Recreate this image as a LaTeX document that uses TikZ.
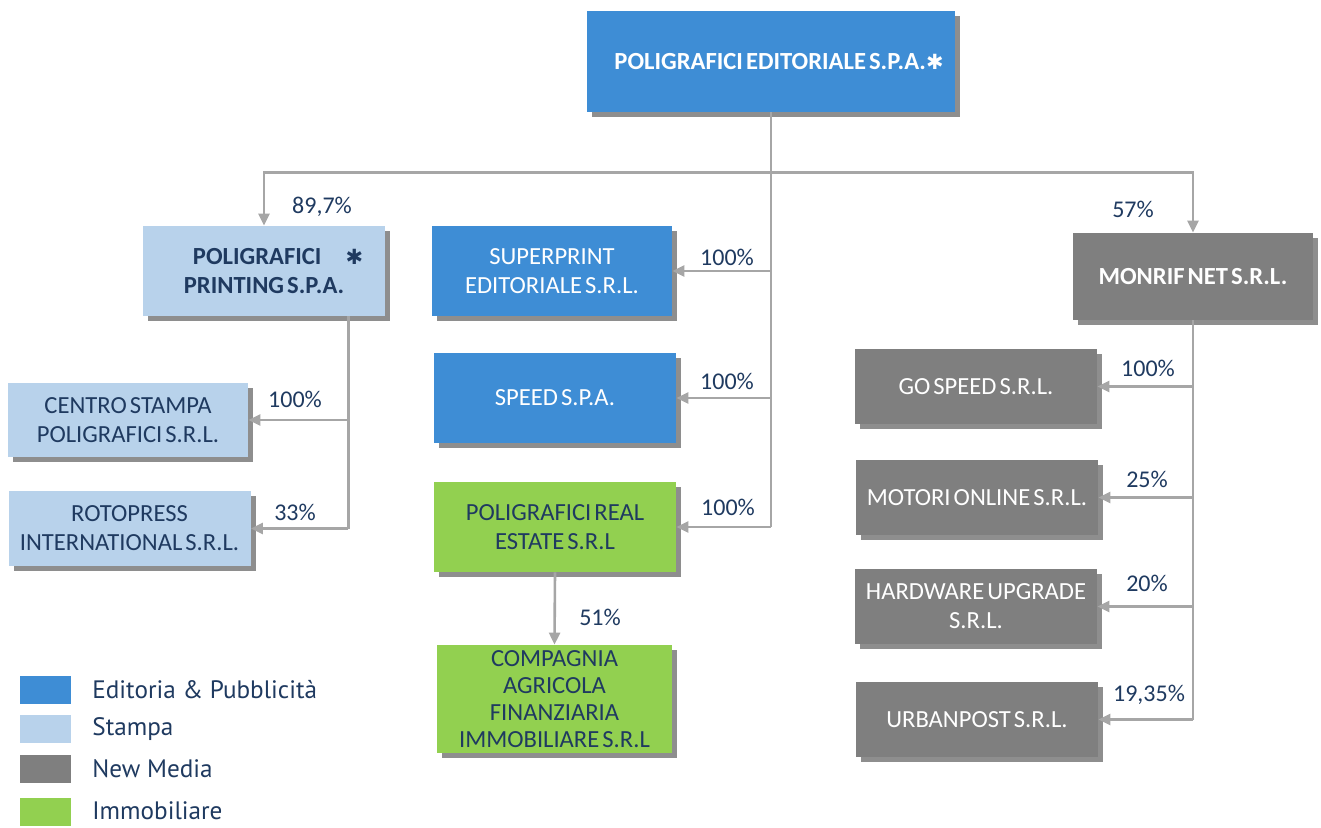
\documentclass[tikz,border=0pt]{standalone}
\usepackage{fontspec}
\setmainfont{Carlito}[WordSpace=0.55]
\newfontfamily\legendfont{PT Sans}
\newfontfamily\symfont{DejaVu Sans}
\usepackage{tikz}
\usetikzlibrary{calc,arrows.meta,shadows}
\definecolor{edit}{HTML}{3E8DD5}
\definecolor{stampa}{HTML}{B8D2EB}
\definecolor{media}{HTML}{7F7F7F}
\definecolor{immo}{HTML}{92D050}
\definecolor{shade}{HTML}{8E8E8E}
\definecolor{wire}{HTML}{A6A6A6}
\definecolor{navy}{HTML}{1F3A60}
\newcommand{\boxfont}{\fontsize{12.3}{14.5}\selectfont}
\newcommand{\heavystar}{{\symfont\scalebox{0.85}{✱}}}
\tikzset{
  box/.style={rectangle, inner sep=0pt, align=center, font=\boxfont,
    minimum width=121pt, minimum height=45pt,
    drop shadow={shadow xshift=2.5pt, shadow yshift=-2.5pt, fill=shade, opacity=1}},
  edbox/.style={box, fill=edit, text=white},
  stbox/.style={box, fill=stampa, text=navy},
  nmbox/.style={box, fill=media, text=white},
  imbox/.style={box, fill=immo, text=navy},
  wireline/.style={draw=wire, line width=1.3pt},
  link/.style={wireline, -{Triangle[length=6pt,width=5.5pt]}},
  pct/.style={text=navy, inner sep=0pt, font=\fontsize{12}{14}\selectfont},
  legkey/.style={minimum width=25.5pt, minimum height=14pt, inner sep=0pt},
  keytext/.style={anchor=west, inner sep=0pt, text=navy, font=\legendfont\fontsize{12.6}{14}\selectfont},
}
\begin{document}
\begin{tikzpicture}[x=0.5pt,y=-0.5pt]
  \useasboundingbox[fill=white] (0,0) rectangle (1321,827);

  % parent
  \node[edbox, minimum width=184pt, minimum height=50.5pt, font=\boxfont\bfseries] (pe) at (771,61.5)
    {\hspace{8pt}POLIGRAFICI EDITORIALE S.P.A.\heavystar};

  % first level
  \node[stbox, font=\boxfont\bfseries] (pp) at (264,271)
    {\hspace{14pt}POLIGRAFICI\hspace{12pt}\heavystar\\PRINTING S.P.A.};
  \node[edbox, minimum width=120pt] (sp) at (552,271) {SUPERPRINT\\EDITORIALE S.R.L.};
  \node[edbox] (sd) at (555,398) {SPEED S.P.A.};
  \node[imbox] (re) at (555,527) {POLIGRAFICI REAL\\ESTATE S.R.L};
  \node[imbox, minimum width=117.5pt, minimum height=54pt, font=\fontsize{12.3}{13.5}\selectfont] (ca) at (554.5,699)
    {COMPAGNIA\\AGRICOLA\\FINANZIARIA\\IMMOBILIARE S.R.L};
  \node[nmbox, minimum width=120pt, minimum height=43.5pt, font=\boxfont\bfseries] (mn) at (1193,276.5) {MONRIF NET S.R.L.};

  % printing subsidiaries
  \node[stbox, minimum width=120pt, minimum height=37pt] (cs) at (128,420) {CENTRO STAMPA\\POLIGRAFICI S.R.L.};
  \node[stbox, minimum height=37.5pt] (rp) at (129.5,528.5) {ROTOPRESS\\INTERNATIONAL S.R.L.};

  % new media subsidiaries
  \node[nmbox, minimum height=37.5pt] (gs) at (976,386.5) {GO SPEED S.R.L.};
  \node[nmbox, minimum height=37.5pt] (mo) at (977,497.5) {MOTORI ONLINE S.R.L.};
  \node[nmbox, minimum height=37.5pt] (hu) at (976,606.5) {HARDWARE UPGRADE\\S.R.L.};
  \node[nmbox, minimum height=37.5pt] (up) at (977,719.5) {URBANPOST S.R.L.};

  % connectors
  \coordinate (hub) at ($(pe.south)+(0,60)$);
  \draw[wireline] (pe.south) -- (pe.south |- re.east);
  \draw[link] (hub) -| (pp.north);
  \draw[link] (hub) -| (mn.north);
  \draw[link] (pe.south |- sp.east) -- (sp.east);
  \draw[link] (pe.south |- sd.east) -- (sd.east);
  \draw[link] (pe.south |- re.east) -- (re.east);
  \draw[link] (re.south) -- (ca.north);

  \coordinate (ppdrop) at ($(pp.south east)+(-37,0)$);
  \draw[wireline] (ppdrop) -- (ppdrop |- rp.east);
  \draw[link] (ppdrop |- cs.east) -- (cs.east);
  \draw[link] (ppdrop |- rp.east) -- (rp.east);

  \draw[wireline] (mn.south) -- (mn.south |- up.east);
  \draw[link] (mn.south |- gs.east) -- (gs.east);
  \draw[link] (mn.south |- mo.east) -- (mo.east);
  \draw[link] (mn.south |- hu.east) -- (hu.east);
  \draw[link] (mn.south |- up.east) -- (up.east);

  % shares
  \node[pct] (q1) at (322,207) {89,7\%};
  \node[pct] (q2) at (1133,209) {57\%};
  \node[pct] (q3) at (727,257) {100\%};
  \node[pct] (q4) at (727,381) {100\%};
  \node[pct] (q5) at (728,507) {100\%};
  \node[pct] (q6) at (600,617) {51\%};
  \node[pct] (q7) at (295,399) {100\%};
  \node[pct] (q8) at (295,512) {33\%};
  \node[pct] (q9) at (1148,368) {100\%};
  \node[pct] (q10) at (1147,479) {25\%};
  \node[pct] (q11) at (1147,583) {20\%};
  \node[pct] (q12) at (1149,695) {19,35\%};

  % legend
  \node[legkey, fill=edit] (k1) at (45.5,689.5) {};
  \node[legkey, fill=stampa] (k2) at (45.5,729) {};
  \node[legkey, fill=media] (k3) at (45.5,769) {};
  \node[legkey, fill=immo] (k4) at (45.5,812) {};
  \node[keytext] (t1) at (92,689.5) {Editoria \& Pubblicità};
  \node[keytext] (t2) at (92,729) {Stampa};
  \node[keytext] (t3) at (92,769) {New Media};
  \node[keytext] (t4) at (92,811) {Immobiliare};
\end{tikzpicture}
\end{document}
